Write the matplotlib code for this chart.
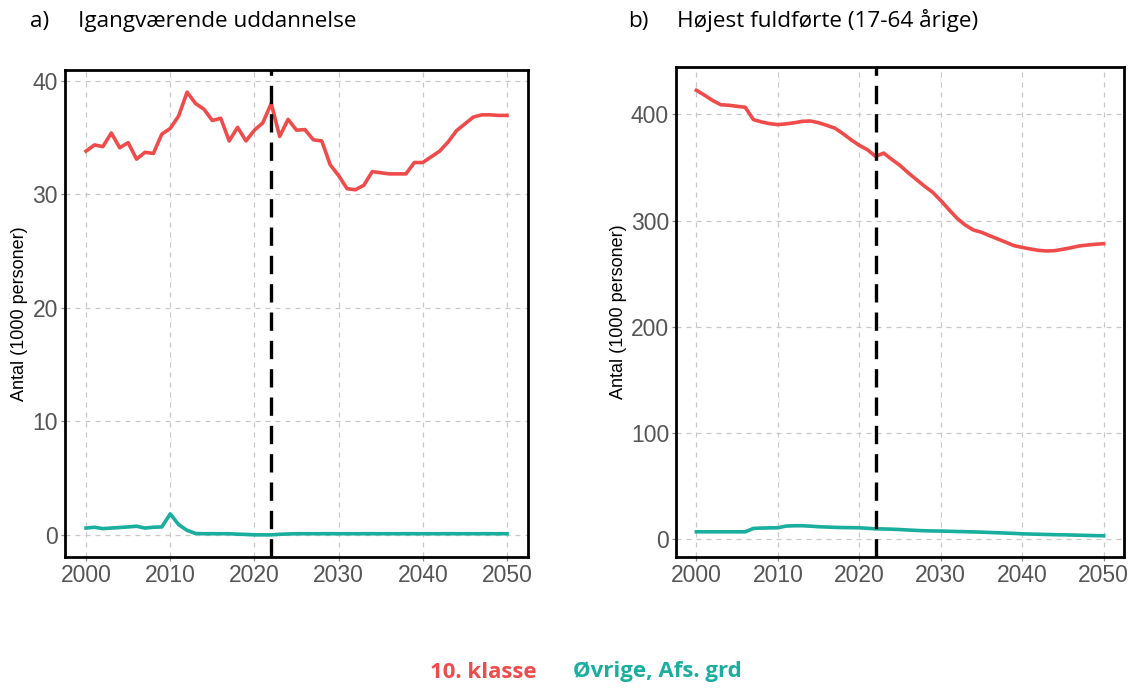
import matplotlib
matplotlib.use("Agg")
import matplotlib.pyplot as plt

years = list(range(2000, 2051))

# Panel a) Igangværende uddannelse (1000 personer)
a_klasse10 = [33.8, 34.35, 34.2, 35.4, 34.1, 34.55, 33.1, 33.7, 33.6, 35.3,
              35.8, 36.9, 39.0, 38.0, 37.5, 36.5, 36.7, 34.7, 35.9, 34.7,
              35.65, 36.3, 38.0, 35.1, 36.6, 35.65, 35.7, 34.8, 34.7, 32.6,
              31.65, 30.5, 30.4, 30.8, 32.0, 31.9, 31.8, 31.8, 31.8, 32.8,
              32.8, 33.3, 33.8, 34.6, 35.6, 36.2, 36.8, 37.0, 37.0, 36.95,
              36.95]
a_ovrige = [0.6, 0.67, 0.55, 0.6, 0.65, 0.7, 0.76, 0.6, 0.67, 0.7,
            1.85, 0.9, 0.4, 0.12, 0.1, 0.1, 0.1, 0.1, 0.06, 0.04,
            0.0, 0.0, 0.0, 0.05, 0.08, 0.1, 0.1, 0.1, 0.1, 0.1,
            0.1, 0.1, 0.1, 0.1, 0.1, 0.1, 0.1, 0.1, 0.1, 0.1,
            0.1, 0.1, 0.1, 0.1, 0.1, 0.1, 0.1, 0.1, 0.1, 0.1,
            0.1]

# Panel b) Højest fuldførte (17-64 årige) (1000 personer)
b_klasse10 = [422.6, 418.0, 413.0, 409.0, 408.5, 407.5, 406.6, 395.0, 392.8, 391.2,
              390.3, 391.0, 392.0, 393.4, 393.7, 392.1, 389.6, 387.0, 381.8, 376.0,
              370.8, 366.7, 360.4, 363.5, 357.5, 351.9, 345.0, 338.7, 332.4, 326.7,
              318.9, 310.4, 302.2, 295.9, 291.2, 289.0, 285.8, 282.7, 279.6, 276.4,
              274.8, 273.3, 272.0, 271.4, 271.7, 273.0, 274.5, 276.1, 277.0, 277.7,
              278.3]
b_ovrige = [7.2, 7.2, 7.2, 7.2, 7.2, 7.2, 7.2, 10.4, 10.7, 10.9,
            11.0, 12.6, 12.9, 12.9, 12.5, 12.0, 11.7, 11.4, 11.2, 11.1,
            11.0, 10.5, 10.0, 9.9, 9.7, 9.3, 8.9, 8.5, 8.2, 8.0,
            7.9, 7.7, 7.5, 7.3, 7.1, 6.9, 6.6, 6.3, 6.0, 5.7,
            5.3, 5.1, 4.9, 4.7, 4.5, 4.4, 4.2, 4.0, 3.8, 3.6,
            3.5]

series_names = ["10. klasse", "Øvrige, Afs. grd"]
panel_tags = ["a)", "b)"]
titles = ["Igangværende uddannelse", "Højest fuldførte (17-64 årige)"]
ylabel = "Antal (1000 personer)"
xticks = [2000, 2010, 2020, 2030, 2040, 2050]
yticks_a = [0, 10, 20, 30, 40]
yticks_b = [0, 100, 200, 300, 400]
cutoff_year = 2022

RED = "#F04B4B"
TEAL = "#19AE9E"
W, H = 1138, 689

fig = plt.figure(figsize=(W / 100, H / 100), dpi=100)

def rect(x0, y0, x1, y1):
    return [x0 / W, 1 - y1 / H, (x1 - x0) / W, (y1 - y0) / H]

axA = fig.add_axes(rect(65, 70, 528, 557))
axB = fig.add_axes(rect(676, 67, 1124, 557))

def style(ax, red, teal, yticks, ylim):
    ax.plot(years, red, color=RED, lw=2.6, solid_joinstyle="round", zorder=3)
    ax.plot(years, teal, color=TEAL, lw=2.6, solid_joinstyle="round", zorder=3)
    ax.axvline(cutoff_year, color="black", lw=2.4, ls=(0, (5.5, 3)), zorder=4)
    ax.set_xlim(1997.5, 2052.5)
    ax.set_ylim(*ylim)
    ax.set_xticks(xticks)
    ax.set_yticks(yticks)
    ax.grid(True, color="#c8c8c8", ls=(0, (4, 4)), lw=0.9)
    ax.set_axisbelow(True)
    for s in ax.spines.values():
        s.set_color("black")
        s.set_linewidth(2.0)
    ax.tick_params(axis="both", colors="#8c8c8c", length=3, width=0.9,
                   labelsize=16.5, labelcolor="#555555", pad=2)
    for lab in ax.get_xticklabels() + ax.get_yticklabels():
        lab.set_fontfamily("Liberation Sans")
    ax.set_ylabel(ylabel, fontsize=13, family="Liberation Sans", color="black", labelpad=3)

style(axA, a_klasse10, a_ovrige, yticks_a, (-1.95, 40.95))
style(axB, b_klasse10, b_ovrige, yticks_b, (-16.5, 444.5))

tfont = dict(fontsize=16.2, family="Open Sans", va="baseline")
fig.text(30 / W, 1 - 27 / H, panel_tags[0], **tfont)
fig.text(78 / W, 1 - 27 / H, titles[0], **tfont)
fig.text(628 / W, 1 - 27 / H, panel_tags[1], **tfont)
fig.text(677 / W, 1 - 27 / H, titles[1], **tfont)

fig.text(430 / W, 1 - 672 / H, series_names[0], fontsize=16, family="Open Sans",
         weight="bold", color=RED, ha="left", va="center")
fig.text(573 / W, 1 - 672 / H, series_names[1], fontsize=16, family="Open Sans",
         weight="bold", color=TEAL, ha="left", va="center")

fig.savefig("out.png", dpi=100)
